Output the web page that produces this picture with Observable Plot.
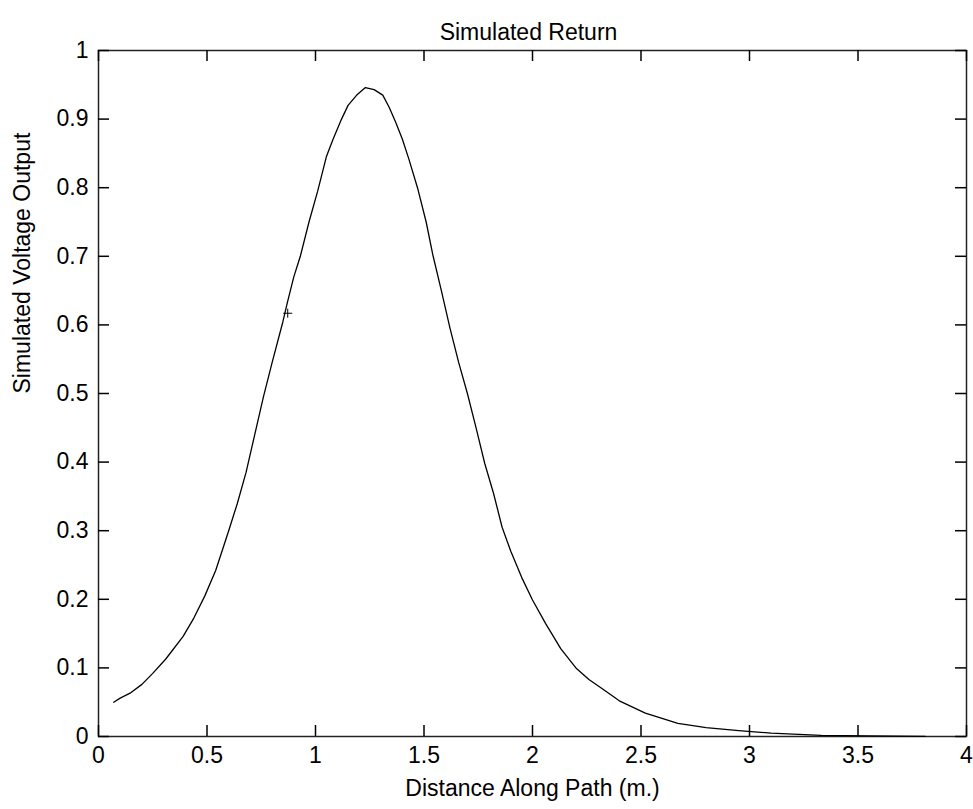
<!DOCTYPE html>
<html>
<head>
<meta charset="utf-8">
<script src="https://cdn.jsdelivr.net/npm/d3@7"></script>
<script src="https://cdn.jsdelivr.net/npm/@observablehq/plot@0.6"></script>
<style>
  html, body { margin: 0; padding: 0; background: #fff; }
</style>
</head>
<body>
<div id="chart"></div>
<script>
const titleText = "Simulated Return";
const xLabel = "Distance Along Path (m.)";
const yLabel = "Simulated Voltage Output";

const distance = [0.07,0.10,0.15,0.20,0.25,0.31,0.39,0.44,0.49,0.54,0.60,0.64,0.68,0.72,0.76,0.80,0.85,0.87,0.90,0.93,0.97,1.01,1.05,1.08,1.12,1.15,1.19,1.23,1.27,1.31,1.34,1.37,1.40,1.43,1.47,1.51,1.54,1.58,1.62,1.66,1.70,1.74,1.78,1.82,1.86,1.90,1.95,2.00,2.06,2.13,2.20,2.26,2.32,2.40,2.52,2.67,2.80,2.95,3.10,3.33,3.55,3.81];
const voltage = [0.050,0.056,0.064,0.076,0.092,0.113,0.146,0.173,0.205,0.242,0.300,0.340,0.385,0.440,0.495,0.545,0.605,0.632,0.670,0.700,0.750,0.795,0.845,0.870,0.900,0.920,0.935,0.946,0.943,0.935,0.917,0.895,0.871,0.842,0.800,0.750,0.703,0.650,0.595,0.545,0.500,0.450,0.398,0.355,0.305,0.270,0.232,0.199,0.165,0.128,0.100,0.083,0.070,0.052,0.034,0.019,0.013,0.0087,0.0048,0.0015,0.0008,0.0003];

const markerX = [0.872];
const markerY = [0.617];

const xTicks = [0,0.5,1,1.5,2,2.5,3,3.5,4];
const yTicks = [0,0.1,0.2,0.3,0.4,0.5,0.6,0.7,0.8,0.9,1];

const data = distance.map((d, i) => ({x: d, y: voltage[i]}));
const markers = markerX.map((d, i) => ({x: d, y: markerY[i]}));

const W = 973, H = 809;
const mL = 98, mR = 7, mT = 50, mB = 73;
const innerW = W - mL - mR, innerH = H - mT - mB;
const xDomain = [0, 4], yDomain = [0, 1];
const tickLen = 11;
// tick lengths expressed in data units of each scale
const tyLen = tickLen / innerH * (yDomain[1] - yDomain[0]);
const txLen = tickLen / innerW * (xDomain[1] - xDomain[0]);

const xTickRows = xTicks.map(d => ({x: d}));
const yTickRows = yTicks.map(d => ({y: d}));

const fmt = d => String(d);
const font = "'Liberation Sans', Arial, sans-serif";

const chart = Plot.plot({
  width: W,
  height: H,
  marginLeft: mL,
  marginRight: mR,
  marginTop: mT,
  marginBottom: mB,
  style: {background: "#fff", fontFamily: font, fontSize: "23px"},
  x: {domain: xDomain},
  y: {domain: yDomain},
  marks: [
    Plot.frame({fill: "none", stroke: "#222", strokeWidth: 1.5}),
    Plot.axisX(xTicks, {anchor: "bottom", tickSize: 0, tickPadding: 10, tickFormat: fmt, label: null, fontSize: 23}),
    Plot.axisY(yTicks, {anchor: "left", tickSize: 0, tickPadding: 10, tickFormat: fmt, label: null, fontSize: 23}),
    // inward ticks on all four sides
    Plot.ruleX(xTickRows, {x: "x", y1: yDomain[0], y2: yDomain[0] + tyLen, stroke: "black", strokeWidth: 1.5}),
    Plot.ruleX(xTickRows, {x: "x", y1: yDomain[1] - tyLen, y2: yDomain[1], stroke: "black", strokeWidth: 1.5}),
    Plot.ruleY(yTickRows, {y: "y", x1: xDomain[0], x2: xDomain[0] + txLen, stroke: "black", strokeWidth: 1.5}),
    Plot.ruleY(yTickRows, {y: "y", x1: xDomain[1] - txLen, x2: xDomain[1], stroke: "black", strokeWidth: 1.5}),
    Plot.line(data, {x: "x", y: "y", stroke: "black", strokeWidth: 1.3}),
    Plot.dot(markers, {x: "x", y: "y", symbol: "plus", r: 3, stroke: "black", strokeWidth: 1}),
    Plot.text([titleText], {frameAnchor: "top", dx: -4, dy: -27, fontSize: 23, fill: "black"}),
    Plot.text([xLabel], {frameAnchor: "bottom", dy: 59, fontSize: 23, fill: "black"}),
    Plot.text([yLabel], {frameAnchor: "left", dx: -76, rotate: -90, fontSize: 23, fill: "black"})
  ]
});
document.getElementById("chart").appendChild(chart);
</script>
</body>
</html>
